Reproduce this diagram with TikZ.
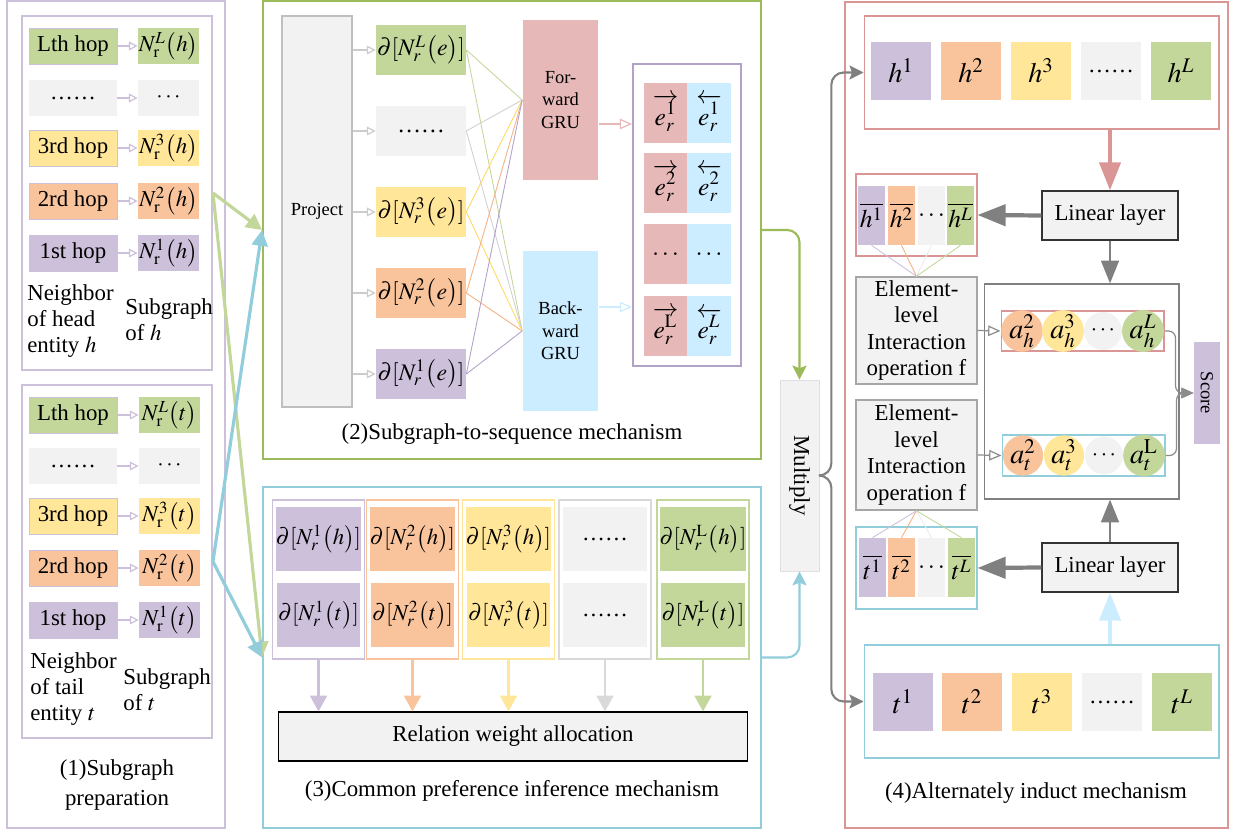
\documentclass[tikz,border=0pt]{standalone}
\usepackage{mathptmx}
\usepackage[no-math]{fontspec}
\setmainfont{Liberation Serif}
\usepackage{graphicx}
\usepackage{tikz}
\usetikzlibrary{arrows.meta, shapes, positioning, calc}

\definecolor{lav}{HTML}{CCC0DA}
\definecolor{lavdark}{HTML}{B3A2C7}
\definecolor{peach}{HTML}{F9C49C}
\definecolor{peachdark}{HTML}{F4B183}
\definecolor{sand}{HTML}{FFE699}
\definecolor{sanddark}{HTML}{FFD966}
\definecolor{olive}{HTML}{C4D79B}
\definecolor{pale}{HTML}{F2F2F2}
\definecolor{rose}{HTML}{E6B9B8}
\definecolor{sky}{HTML}{CCECFF}
\definecolor{grnline}{HTML}{9BBB59}
\definecolor{aqua}{HTML}{92CDDC}
\definecolor{roseline}{HTML}{D99694}

\begin{document}
\begin{tikzpicture}[x=0.02cm, y=-0.02cm,
        every node/.style={font=\fontsize{13}{15}\selectfont, inner sep=0pt},
        panel/.style={rectangle, draw, line width=1.1pt, minimum width=9.96cm},
        hop/.style={rectangle, draw=lav, line width=0.5pt, minimum width=1.76cm, minimum height=0.72cm},
        subg/.style={rectangle, minimum width=1.22cm, minimum height=0.72cm},
        dcell/.style={rectangle, minimum width=1.8cm, minimum height=1cm, font=\fontsize{13.5}{16}\selectfont},
        gru/.style={rectangle, minimum width=1.52cm, minimum height=3.22cm, align=center, font=\fontsize{10.5}{12.8}\selectfont},
        ecell/.style={rectangle, minimum width=0.87cm, minimum height=1.2cm, font=\fontsize{14.5}{17}\selectfont},
        colbox/.style={rectangle, draw, line width=0.8pt, minimum width=1.84cm, minimum height=3.18cm},
        pcell/.style={rectangle, minimum width=1.68cm, minimum height=1.28cm, font=\fontsize{13}{16}\selectfont},
        vcell/.style={rectangle, minimum width=1.2cm, minimum height=1.16cm, font=\fontsize{16}{18}\selectfont},
        barcell/.style={rectangle, minimum width=0.54cm, minimum height=1.18cm, font=\fontsize{14.5}{17}\selectfont},
        acirc/.style={circle, minimum size=0.76cm, font=\fontsize{16}{18}\selectfont},
        linear/.style={rectangle, draw=black!80, line width=0.7pt, fill=pale, minimum width=2.72cm, minimum height=0.98cm},
        elem/.style={rectangle, draw=black!35, line width=0.9pt, fill=pale, minimum width=2.42cm, align=center},
        thinbox/.style={rectangle, line width=0.6pt},
        hoplink/.style={draw=lav, line width=0.7pt, -{Triangle[open, length=5pt, width=5pt]}},
        projlink/.style={draw=black!20, line width=0.7pt, -{Triangle[open, length=5pt, width=5pt]}},
        glink/.style={line width=0.5pt},
        openarrow/.style={line width=0.7pt, -{Triangle[open, length=7pt, width=6pt]}},
        bigcross/.style={line width=1.8pt, -{Triangle[length=9pt, width=9pt]}},
        relarrow/.style={line width=1.5pt, -{Triangle[length=9pt, width=9.5pt]}},
        flowarrow/.style={line width=1.2pt, rounded corners=7pt, -{Stealth[length=8pt, width=8pt, inset=1.5pt]}},
        heavyarrow/.style={line width=2.4pt, -{Triangle[length=16pt, width=12pt]}},
        midarrow/.style={line width=1.6pt, -{Triangle[length=13pt, width=10pt]}},
        scorelink/.style={draw=black!45, line width=0.7pt, rounded corners=4pt, -{Triangle[length=7pt, width=6pt]}}
    ]
        \useasboundingbox (0,0) rectangle (1234,830);

        % (1) Subgraph preparation
        \node (prep) [panel, draw=lav, minimum width=4.36cm, minimum height=16.54cm] at (116,414.5) {};
        \node (hsub) [panel, draw=lav, minimum width=3.8cm, minimum height=7.08cm] at (117,193) {};
        \node (tsub) [panel, draw=lav, minimum width=3.8cm, minimum height=7.06cm] at (117,561.5) {};

        \node (hL) [hop, fill=olive] at (73,46) {Lth hop};
        \node (hdots) [hop, fill=pale, draw=none] at (73,98) {\ldots\ldots};
        \node (h3) [hop, fill=sand] at (73,148) {3rd hop};
        \node (h2) [hop, fill=peach] at (73,201) {2rd hop};
        \node (h1) [hop, fill=lav] at (73,253) {1st hop};
        \node (nhL) [subg, fill=olive] at (168.5,46) {$N_{\mathrm{r}}^{L}\bigl(h\bigr)$};
        \node (nhdots) [subg, fill=pale] at (168.5,98) {$\cdots$};
        \node (nh3) [subg, fill=sand] at (168.5,148) {$N_{\mathrm{r}}^{3}\bigl(h\bigr)$};
        \node (nh2) [subg, fill=peach] at (168.5,201) {$N_{\mathrm{r}}^{2}\bigl(h\bigr)$};
        \node (nh1) [subg, fill=lav] at (168.5,253) {$N_{\mathrm{r}}^{1}\bigl(h\bigr)$};
        \node (hnb) [anchor=north west, align=left] at (27,284) {Neighbor\\of head\\entity $h$};
        \node (hsg) [anchor=north west, align=left] at (125,298) {Subgraph\\of $h$};

        \node (tL) [hop, fill=olive] at (73,415) {Lth hop};
        \node (tdots) [hop, fill=pale, draw=none] at (73,466) {\ldots\ldots};
        \node (t3) [hop, fill=sand] at (73,516) {3rd hop};
        \node (t2) [hop, fill=peach] at (73,568) {2rd hop};
        \node (t1) [hop, fill=lav] at (73,620) {1st hop};
        \node (ntL) [subg, fill=olive] at (169.5,415) {$N_{\mathrm{r}}^{L}\bigl(t\bigr)$};
        \node (ntdots) [subg, fill=pale] at (169.5,466) {$\cdots$};
        \node (nt3) [subg, fill=sand] at (169.5,516) {$N_{\mathrm{r}}^{3}\bigl(t\bigr)$};
        \node (nt2) [subg, fill=peach] at (169.5,568) {$N_{\mathrm{r}}^{2}\bigl(t\bigr)$};
        \node (nt1) [subg, fill=lav] at (169.5,620) {$N_{\mathrm{r}}^{1}\bigl(t\bigr)$};
        \node (tnb) [anchor=north west, align=left] at (30,652) {Neighbor\\of tail\\entity $t$};
        \node (tsg) [anchor=north west, align=left] at (123,668) {Subgraph\\of $t$};

        \node (cap1) [align=center, font=\fontsize{13}{17}\selectfont] at (117,785) {(1)Subgraph\\preparation};

        \draw [hoplink] (hL) -- (nhL);
        \draw [hoplink] (hdots) -- (nhdots);
        \draw [hoplink] (h3) -- (nh3);
        \draw [hoplink] (h2) -- (nh2);
        \draw [hoplink] (h1) -- (nh1);
        \draw [hoplink] (tL) -- (ntL);
        \draw [hoplink] (tdots) -- (ntdots);
        \draw [hoplink] (t3) -- (nt3);
        \draw [hoplink] (t2) -- (nt2);
        \draw [hoplink] (t1) -- (nt1);

        % (2) Subgraph-to-sequence mechanism
        \node (sub2seq) [panel, draw=grnline, minimum height=9.16cm] at (512,230) {};
        \node (project) [rectangle, draw=black!25, line width=1.1pt, fill=pale, minimum width=1.4cm, minimum height=7.82cm, font=\fontsize{10.5}{12}\selectfont] at (317,211.5) {Project};
        \node (dL) [dcell, fill=olive] at (421,50) {$\partial[N_r^L\bigl(e\bigr)]$};
        \node (ddots) [dcell, fill=pale] at (421,131) {\ldots\ldots};
        \node (d3) [dcell, fill=sand] at (421,212) {$\partial[N_r^3\bigl(e\bigr)]$};
        \node (d2) [dcell, fill=peach] at (421,293) {$\partial[N_r^2\bigl(e\bigr)]$};
        \node (d1) [dcell, fill=lav] at (421,374) {$\partial[N_r^1\bigl(e\bigr)]$};
        \node (fgru) [gru, fill=rose] at (560.5,100) {For-\\ward\\GRU};
        \node (bgru) [gru, fill=sky] at (560.5,331) {Back-\\ward\\GRU};

        \node (seqbox) [rectangle, draw=lavdark, line width=1.1pt, minimum width=2.16cm, minimum height=6.04cm] at (687,215) {};
        \node (f1) [ecell, fill=rose] at (665.5,113) {$\overrightarrow{e_r^1}$};
        \node (b1) [ecell, fill=sky] at (709,113) {$\overleftarrow{e_r^1}$};
        \node (f2) [ecell, fill=rose] at (665.5,183) {$\overrightarrow{e_r^2}$};
        \node (b2) [ecell, fill=sky] at (709,183) {$\overleftarrow{e_r^2}$};
        \node (fdots) [ecell, fill=rose] at (665.5,254.5) {$\cdots$};
        \node (bdots) [ecell, fill=sky] at (709,254.5) {$\cdots$};
        \node (fL) [ecell, fill=rose] at (665.5,326) {$\overrightarrow{e_r^{\mathrm{L}}}$};
        \node (bL) [ecell, fill=sky] at (709,326) {$\overleftarrow{e_r^{L}}$};

        \node (cap2) at (512,434) {(2)Subgraph-to-sequence mechanism};

        \draw [projlink] (project.east |- dL) -- (dL);
        \draw [projlink] (project.east |- ddots) -- (ddots);
        \draw [projlink] (project.east |- d3) -- (d3);
        \draw [projlink] (project.east |- d2) -- (d2);
        \draw [projlink] (project.east |- d1) -- (d1);

        \draw [glink, olive] (dL.east) -- (fgru.west);
        \draw [glink, olive] (dL.east) -- (bgru.west);
        \draw [glink, black!18] (ddots.east) -- (fgru.west);
        \draw [glink, black!18] (ddots.east) -- (bgru.west);
        \draw [glink, sanddark] (d3.east) -- (fgru.west);
        \draw [glink, sanddark] (d3.east) -- (bgru.west);
        \draw [glink, peachdark] (d2.east) -- (fgru.west);
        \draw [glink, peachdark] (d2.east) -- (bgru.west);
        \draw [glink, lavdark] (d1.east) -- (fgru.west);
        \draw [glink, lavdark] (d1.east) -- (bgru.west);

        \draw [openarrow, rose] ($(fgru.east)+(0,24)$) -- ($(seqbox.west)+(0,-91)$);
        \draw [openarrow, sky] ($(bgru.east)+(0,-24)$) -- ($(seqbox.west)+(0,92)$);

        % (3) Common preference inference mechanism
        \node (pref) [panel, draw=aqua, minimum height=6.82cm] at (512,657.5) {};
        \node (col1) [colbox, draw=lav] at (318.5,579.5) {};
        \node (col2) [colbox, draw=peach] at (412.5,579.5) {};
        \node (col3) [colbox, draw=sand] at (508.5,579.5) {};
        \node (col4) [colbox, draw=black!15] at (605,579.5) {};
        \node (col5) [colbox, draw=olive] at (703,579.5) {};
        \node (ph1) [pcell, fill=lav] at (318.5,539) {$\partial[N_r^1\bigl(h\bigr)]$};
        \node (pt1) [pcell, fill=lav] at (318.5,615) {$\partial[N_r^1\bigl(t\bigr)]$};
        \node (ph2) [pcell, fill=peach] at (412.5,539) {$\partial[N_r^2\bigl(h\bigr)]$};
        \node (pt2) [pcell, fill=peach] at (412.5,615) {$\partial[N_r^2\bigl(t\bigr)]$};
        \node (ph3) [pcell, fill=sand] at (508.5,539) {$\partial[N_r^3\bigl(h\bigr)]$};
        \node (pt3) [pcell, fill=sand] at (508.5,615) {$\partial[N_r^3\bigl(t\bigr)]$};
        \node (phdots) [pcell, fill=pale] at (605,539) {\ldots\ldots};
        \node (ptdots) [pcell, fill=pale] at (605,615) {\ldots\ldots};
        \node (phL) [pcell, fill=olive] at (703,539) {$\partial[N_r^{\mathrm{L}}\bigl(h\bigr)]$};
        \node (ptL) [pcell, fill=olive] at (703,615) {$\partial[N_r^{\mathrm{L}}\bigl(t\bigr)]$};
        \node (relw) [rectangle, draw=black, line width=0.6pt, fill=pale, minimum width=9.4cm, minimum height=0.98cm] at (513,736.5) {Relation weight allocation};
        \node (cap3) at (512,791) {(3)Common preference inference mechanism};

        \draw [relarrow, lav] (col1) -- (col1 |- relw.north);
        \draw [relarrow, peach] (col2) -- (col2 |- relw.north);
        \draw [relarrow, sand] (col3) -- (col3 |- relw.north);
        \draw [relarrow, black!15] (col4) -- (col4 |- relw.north);
        \draw [relarrow, olive] (col5) -- (col5 |- relw.north);

        % Flows - subgraphs into (2) and (3)
        \draw [bigcross, olive] (hsub.east) -- (sub2seq.west);
        \draw [bigcross, olive] (hsub.east) -- (pref.west);
        \draw [bigcross, aqua] (tsub.east) -- (sub2seq.west);
        \draw [bigcross, aqua] (tsub.east) -- (pref.west);

        % Multiply
        \node (multiply) [rectangle, draw=black!12, fill=pale, minimum width=0.78cm, minimum height=3.82cm] at (799.5,475.5) {\rotatebox{-90}{Multiply}};
        \draw [flowarrow, grnline] (sub2seq.east) -| (multiply.north);
        \draw [flowarrow, aqua] (pref.east) -| (multiply.south);

        % (4) Alternately induct mechanism
        \node (induct) [panel, draw=roseline, minimum width=7.66cm, minimum height=16.52cm] at (1036.5,415) {};
        \node (hbox) [thinbox, draw=roseline, minimum width=7.1cm, minimum height=2.26cm] at (1041.5,72.5) {};
        \node (hv1) [vcell, fill=lav] at (901,71) {$h^1$};
        \node (hv2) [vcell, fill=peach] at (971,71) {$h^2$};
        \node (hv3) [vcell, fill=sand] at (1041,71) {$h^3$};
        \node (hvdots) [vcell, fill=pale, font=\fontsize{13}{15}\selectfont] at (1111,71) {\ldots\ldots};
        \node (hvL) [vcell, fill=olive] at (1181,71) {$h^L$};

        \node (lin1) [linear] at (1110,215.5) {Linear layer};
        \node (hbar) [thinbox, draw=roseline, minimum width=2.42cm, minimum height=1.64cm] at (916.5,215) {};
        \node (hb1) [barcell, fill=lav] at (871.5,215.5) {$\overline{h^1}$};
        \node (hb2) [barcell, fill=peach] at (901.5,215.5) {$\overline{h^2}$};
        \node (hbdots) [barcell, fill=pale] at (931.5,215.5) {$\cdots$};
        \node (hbL) [barcell, fill=olive] at (960.5,215.5) {$\overline{h^L}$};

        \node (elem1) [elem, minimum height=2.14cm] at (916.5,330.5) {Element-\\level\\Interaction\\operation f};
        \node (elem2) [elem, minimum height=2.2cm] at (916.5,455) {Element-\\level\\Interaction\\operation f};

        \node (pairs) [thinbox, draw=black!50, minimum width=3.9cm, minimum height=4.3cm] at (1081.5,391.5) {};
        \node (ahbox) [thinbox, draw=roseline, minimum width=3.26cm, minimum height=0.8cm] at (1082.5,331) {};
        \node (ah2) [acirc, fill=peach] at (1022,331) {$a_h^2$};
        \node (ah3) [acirc, fill=sand] at (1063,331) {$a_h^3$};
        \node (ahdots) [acirc, fill=pale, font=\fontsize{13}{15}\selectfont] at (1103,331) {$\cdots$};
        \node (ahL) [acirc, fill=olive] at (1143,331) {$a_h^L$};
        \node (atbox) [thinbox, draw=aqua, minimum width=3.26cm, minimum height=0.82cm] at (1083.5,455.5) {};
        \node (at2) [acirc, fill=peach] at (1023,455.5) {$a_t^2$};
        \node (at3) [acirc, fill=sand] at (1064,455.5) {$a_t^3$};
        \node (atdots) [acirc, fill=pale, font=\fontsize{13}{15}\selectfont] at (1104,455.5) {$\cdots$};
        \node (atL) [acirc, fill=olive] at (1144,455.5) {$a_t^{\mathrm{L}}$};
        \node (score) [rectangle, fill=lav, minimum width=0.52cm, minimum height=2.04cm, font=\fontsize{10.5}{12}\selectfont] at (1207,393) {\rotatebox{-90}{Score}};

        \node (lin2) [linear] at (1110,567.5) {Linear layer};
        \node (tbar) [thinbox, draw=aqua, minimum width=2.42cm, minimum height=1.64cm] at (916.5,568) {};
        \node (tb1) [barcell, fill=lav] at (872.5,567.5) {$\overline{t^1}$};
        \node (tb2) [barcell, fill=peach] at (901.5,567.5) {$\overline{t^2}$};
        \node (tbdots) [barcell, fill=pale] at (931.5,567.5) {$\cdots$};
        \node (tbL) [barcell, fill=olive] at (961.5,567.5) {$\overline{t^L}$};

        \node (tbox) [thinbox, draw=aqua, minimum width=7.1cm, minimum height=2.26cm] at (1041.5,701.5) {};
        \node (tv1) [vcell, fill=lav] at (903,702) {$t^1$};
        \node (tv2) [vcell, fill=peach] at (972,702) {$t^2$};
        \node (tv3) [vcell, fill=sand] at (1042,702) {$t^3$};
        \node (tvdots) [vcell, fill=pale, font=\fontsize{13}{15}\selectfont] at (1112,702) {\ldots\ldots};
        \node (tvL) [vcell, fill=olive] at (1182,702) {$t^L$};

        \node (cap4) at (1036,793) {(4)Alternately induct mechanism};

        % Flows - Multiply to (4)
        \draw [flowarrow, black!50] (multiply.east) -- ++(12,0) |- (hbox.west);
        \draw [flowarrow, black!50] (multiply.east) -- ++(12,0) |- (tbox.west);

        % Flows - head side
        \draw [heavyarrow, roseline] (lin1.north |- hbox.south) -- (lin1.north);
        \draw [heavyarrow, black!50] (lin1.west) -- (hbar.east);
        \draw [midarrow, black!50] (lin1.south) -- (lin1.south |- pairs.north);
        \draw [glink, lav] (hb1.south) -- (elem1.north);
        \draw [glink, peachdark] (hb2.south) -- (elem1.north);
        \draw [glink, black!8] (hbdots.south) -- (elem1.north);
        \draw [glink, olive] (hbL.south) -- (elem1.north);
        \draw [openarrow, black!45] (elem1.east) -- (ahbox.west);

        % Flows - tail side
        \draw [heavyarrow, sky] (lin2.south |- tbox.north) -- (lin2.south);
        \draw [heavyarrow, black!50] (lin2.west) -- (tbar.east);
        \draw [midarrow, black!50] (lin2.north) -- (lin2.north |- pairs.south);
        \draw [glink, lav] (tb1.north) -- (elem2.south);
        \draw [glink, peachdark] (tb2.north) -- (elem2.south);
        \draw [glink, black!8] (tbdots.north) -- (elem2.south);
        \draw [glink, olive] (tbL.north) -- (elem2.south);
        \draw [openarrow, black!45] (elem2.east) -- (atbox.west);

        % Flows - score
        \draw [scorelink] (ahbox.east) -- ++(11,0) |- (score.west);
        \draw [scorelink] (atbox.east) -- ++(11,0) |- (score.west);
    \end{tikzpicture}
\end{document}
